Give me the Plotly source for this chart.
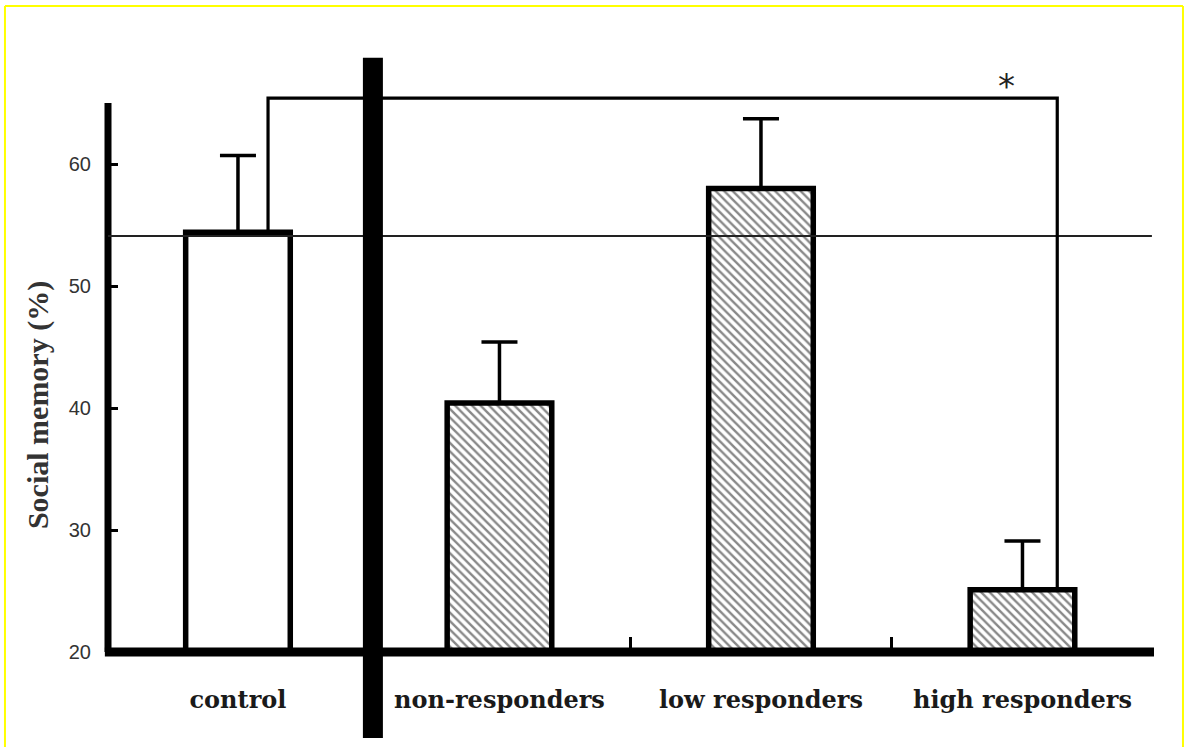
import plotly.graph_objects as go

# ---- data ----
categories = ["control", "non-responders", "low responders", "high responders"]
means = [54.4, 40.4, 58.0, 25.1]
sem_up = [6.3, 5.0, 5.7, 4.0]
patterns = ["", "\\", "\\", "\\"]
reference_level = 54.1
bracket_level = 65.4
y_ticks = [20, 30, 40, 50, 60]
y_axis_top = 65.0

fig = go.Figure()
fig.add_trace(go.Bar(
    x=categories, y=[m - 20 for m in means], base=20,
    width=0.40,
    marker=dict(color="white",
                line=dict(color="black", width=5.5),
                pattern=dict(shape=patterns, fgcolor="#111", bgcolor="white",
                             size=6, solidity=0.4)),
    error_y=dict(type="data", symmetric=False, array=sem_up,
                 arrayminus=[0] * len(means), color="black",
                 thickness=3.5, width=18),
    showlegend=False,
))

shapes = []
# y axis line
shapes.append(dict(type="line", xref="paper", yref="y", x0=0, x1=0,
                   y0=19.6, y1=y_axis_top, line=dict(color="black", width=7)))
# x axis line
shapes.append(dict(type="line", xref="paper", yref="paper", x0=-0.003, x1=1,
                   y0=0, y1=0, line=dict(color="black", width=9),
                   layer="above"))
# horizontal reference line (control level)
shapes.append(dict(type="line", xref="paper", yref="y", x0=0, x1=0.998,
                   y0=reference_level, y1=reference_level,
                   line=dict(color="#222", width=1.8), layer="above"))
# significance bracket control vs high responders
shapes.append(dict(type="path", xref="x", yref="y",
                   path=f"M 0.115,{means[0]} L 0.115,{bracket_level} "
                        f"L 3.133,{bracket_level} L 3.133,{means[3]}",
                   line=dict(color="black", width=3.2), layer="above"))
# thick divider between control and treated groups
shapes.append(dict(type="line", xref="x", yref="paper", x0=0.516, x1=0.516,
                   y0=-0.143, y1=0.987, line=dict(color="black", width=20),
                   layer="above"))
# yellow frame
for (x0, y0, x1, y1) in [(-0.0985, -0.2, -0.0985, 1.073),
                         (-0.0985, 1.073, 1.0277, 1.073),
                         (1.0277, 1.073, 1.0277, -0.2)]:
    shapes.append(dict(type="line", xref="paper", yref="paper",
                       x0=x0, y0=y0, x1=x1, y1=y1,
                       line=dict(color="#FFFF00", width=2)))

fig.update_layout(
    width=1184, height=747,
    margin=dict(l=108, r=30, t=50, b=95),
    paper_bgcolor="white", plot_bgcolor="white",
    shapes=shapes,
    bargap=0.6,
    xaxis=dict(type="category", range=[-0.497, 3.503],
               showline=False,
               ticks="inside", tickson="boundaries", ticklen=15,
               tickwidth=3, tickcolor="black",
               showgrid=False, zeroline=False,
               ticklabelstandoff=31,
               tickfont=dict(family="DejaVu Serif", size=24,
                             color="#1a1a1a", weight="bold")),
    yaxis=dict(range=[20, 20 + 602 / 12.2],
               tickvals=y_ticks, ticks="inside", ticklen=10, tickwidth=3,
               tickcolor="black", showline=False, showgrid=False,
               zeroline=False, ticklabelposition="outside",
               ticklabelstandoff=16,
               tickfont=dict(family="Liberation Sans", size=20,
                             color="#333")),
    annotations=[
        dict(text="Social memory (%)", textangle=-90, xref="paper",
             yref="paper", x=-0.067, y=0.41, xanchor="center",
             yanchor="middle", showarrow=False,
             font=dict(family="Liberation Serif", size=30, color="#333",
                       weight="bold")),
        dict(text="*", xref="x", yref="y", x=2.94, y=66.4, showarrow=False,
             font=dict(family="DejaVu Sans", size=34, color="#222")),
    ],
)

fig.write_html("out.html", config={"displayModeBar": False},
               post_script="document.body.style.margin='0';")
